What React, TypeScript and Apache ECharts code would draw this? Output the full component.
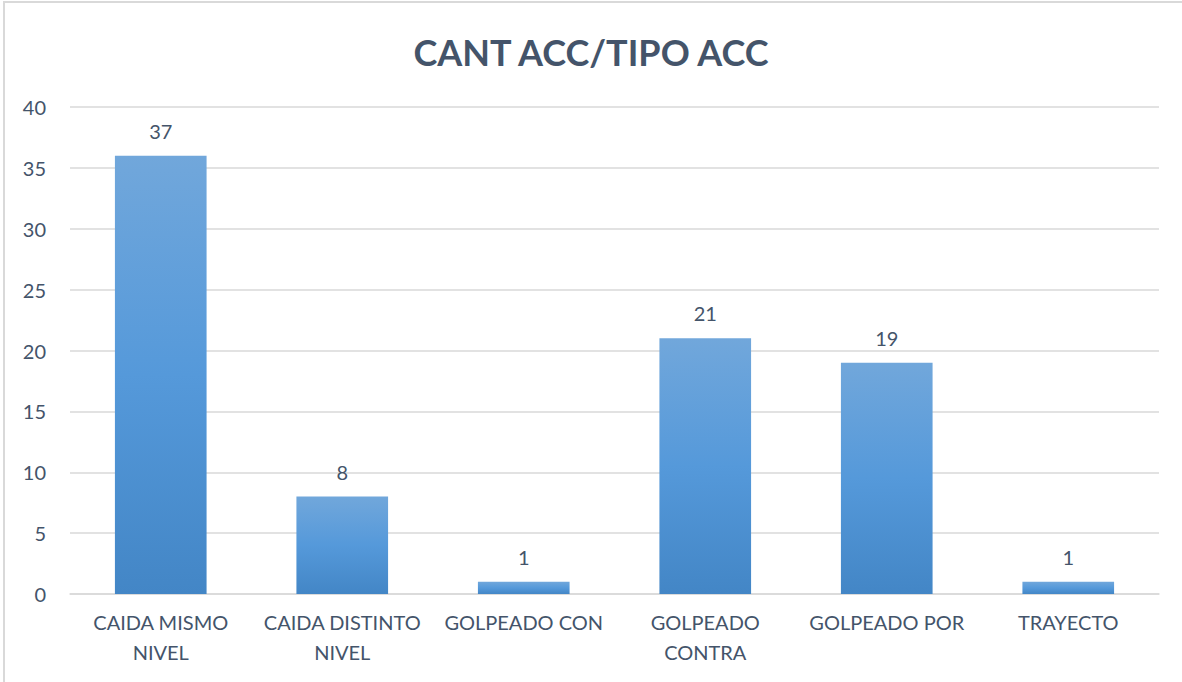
import React, { useEffect, useRef } from "react";
import * as echarts from "echarts";

const chartTitle = "CANT ACC/TIPO ACC";
const categories = [
  "CAIDA MISMO NIVEL",
  "CAIDA DISTINTO NIVEL",
  "GOLPEADO CON",
  "GOLPEADO CONTRA",
  "GOLPEADO POR",
  "TRAYECTO",
];
const barValues = [36, 8, 1, 21, 19, 1];
const dataLabels = ["37", "8", "1", "21", "19", "1"];
const yTicks = { min: 0, max: 40, interval: 5 };

const TEXT = "#44546A";
const FONT = "Lato, Carlito, 'Open Sans', sans-serif";

function wrap(s: string, maxLen = 14): string {
  if (s.length <= maxLen) return s;
  const cut = s.lastIndexOf(" ", maxLen);
  if (cut <= 0) return s;
  return s.slice(0, cut) + "\n" + s.slice(cut + 1);
}

export default function App() {
  const ref = useRef<HTMLDivElement>(null);
  useEffect(() => {
    if (!ref.current) return;
    const chart = echarts.init(ref.current, undefined, { renderer: "svg" });
    chart.setOption({
      animation: false,
      backgroundColor: "#ffffff",
      textStyle: { fontFamily: FONT },
      title: {
        text: chartTitle,
        left: "center",
        top: 29,
        textStyle: { color: TEXT, fontSize: 36, fontWeight: "bold", fontFamily: FONT },
      },
      graphic: [
        {
          type: "rect",
          shape: { x: 4, y: 2, width: 1200, height: 700 },
          style: { fill: "none", stroke: "#D9D9D9", lineWidth: 2 },
          silent: true,
        },
      ],
      grid: { left: 70, right: 23, top: 107, bottom: 88, containLabel: false },
      xAxis: {
        type: "category",
        data: categories,
        axisLine: { show: true, lineStyle: { color: "#D9D9D9", width: 1.5 } },
        axisTick: { show: false },
        axisLabel: {
          color: TEXT,
          fontSize: 20,
          fontFamily: FONT,
          margin: 13,
          lineHeight: 30,
          interval: 0,
          formatter: (v: string) => wrap(v),
        },
      },
      yAxis: {
        type: "value",
        min: yTicks.min,
        max: yTicks.max,
        interval: yTicks.interval,
        axisLine: { show: false },
        axisTick: { show: false },
        splitLine: { lineStyle: { color: "#D9D9D9", width: 1.5 } },
        axisLabel: { color: TEXT, fontSize: 20, fontFamily: FONT, margin: 24 },
      },
      series: [
        {
          type: "bar",
          data: barValues,
          barWidth: "50.5%",
          itemStyle: {
            color: new echarts.graphic.LinearGradient(0, 0, 0, 1, [
              { offset: 0, color: "#71A7DB" },
              { offset: 0.5, color: "#5599DA" },
              { offset: 1, color: "#4386C6" },
            ]),
          },
          label: {
            show: true,
            position: "top",
            distance: 15,
            color: TEXT,
            fontSize: 20,
            fontFamily: FONT,
            formatter: (p: any) => dataLabels[p.dataIndex],
          },
        },
      ],
    });
    return () => chart.dispose();
  }, []);
  return (
    <div
      ref={ref}
      style={{ position: "fixed", left: 0, top: 0, width: 1182, height: 682 }}
    />
  );
}
